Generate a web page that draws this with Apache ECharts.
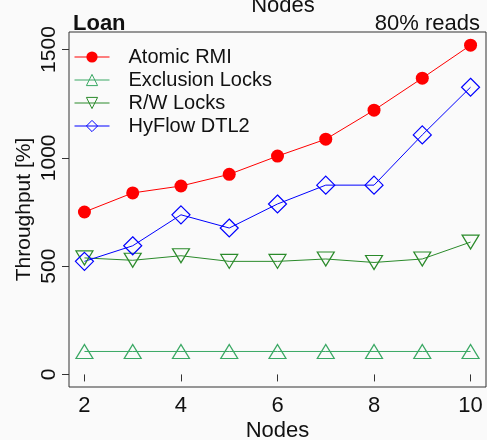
<!DOCTYPE html>
<html>
<head>
<meta charset="utf-8">
<script src="https://cdn.jsdelivr.net/npm/echarts@6/dist/echarts.min.js"></script>
<style>
  html, body { margin: 0; padding: 0; background: #fafafa; }
  #chart { width: 487px; height: 440px; }
</style>
</head>
<body>
<div id="chart"></div>
<script>
// Throughput of the Loan benchmark at 80% reads, by number of nodes
const nodes = [2, 3, 4, 5, 6, 7, 8, 9, 10];
const atomicRmi = [750, 838, 870, 924, 1008, 1086, 1220, 1368, 1520];
const exclusionLocks = [106, 106, 106, 106, 106, 106, 106, 106, 106];
const rwLocks = [538, 527, 548, 522, 522, 533, 517, 533, 611];
const hyflowDtl2 = [522, 594, 737, 676, 787, 874, 874, 1106, 1326];
const xTicks = [2, 4, 6, 8, 10];
const yTicks = [0, 500, 1000, 1500];

const FONT = '"Liberation Sans", Arial, Helvetica, sans-serif';

const styles = {
  'Atomic RMI':      { color: '#ff0000', symbol: 'circle',   size: 13,       filled: true },
  'Exclusion Locks': { color: '#3aa864', symbol: 'triangle', size: [17, 14], filled: false },
  'R/W Locks':       { color: '#2a8a2a', symbol: 'triangle', size: [17, 14], filled: false, rotate: 180 },
  'HyFlow DTL2':     { color: '#0000ff', symbol: 'diamond',  size: 18,       filled: false }
};

function pairs(values) {
  return nodes.map((n, i) => [n, values[i]]);
}

function lineSeries(name, values) {
  const s = styles[name];
  return {
    name: name,
    type: 'line',
    data: pairs(values),
    symbol: s.symbol,
    symbolSize: s.size,
    symbolRotate: s.rotate || 0,
    showAllSymbol: true,
    lineStyle: { color: s.color, width: 1 },
    itemStyle: s.filled
      ? { color: s.color, borderWidth: 0 }
      : { color: 'rgba(0,0,0,0)', borderColor: s.color, borderWidth: 1.2 },
    emphasis: { disabled: true },
    animation: false,
    z: 3
  };
}

const chart = echarts.init(document.getElementById('chart'), null, { renderer: 'canvas' });

chart.setOption({
  backgroundColor: '#fafafa',
  animation: false,
  textStyle: { fontFamily: FONT },
  grid: {
    left: 69, right: 1, top: 32, bottom: 53,
    outerBoundsMode: 'none',
    containLabel: false,
    show: true, borderColor: '#333', borderWidth: 1, backgroundColor: 'transparent'
  },
  title: [
    { text: 'Nodes', left: 278, top: -10, textAlign: 'center',
      textStyle: { fontFamily: FONT, fontSize: 22, fontWeight: 'normal', color: '#111' } },
    { text: 'Loan', left: 68, top: 8,
      textStyle: { fontFamily: FONT, fontSize: 22, fontWeight: 'bold', color: '#111' } },
    { text: '80% reads', right: 2, top: 8,
      textStyle: { fontFamily: FONT, fontSize: 22, fontWeight: 'normal', color: '#111' } }
  ],
  legend: {
    orient: 'vertical',
    left: 74, top: 47,
    padding: 0,
    itemWidth: 35, itemHeight: 14,
    itemGap: 3,
    lineStyle: { width: 1 },
    itemStyle: { borderWidth: 1 },
    textStyle: { fontFamily: FONT, fontSize: 20, color: '#111', lineHeight: 20, padding: [0, 0, 0, 14] },
    data: Object.keys(styles),
    selectedMode: false
  },
  xAxis: {
    type: 'value',
    min: 1.68, max: 10.32,
    name: 'Nodes', nameLocation: 'middle', nameGap: 33,
    nameMoveOverlap: false,
    nameTextStyle: { fontFamily: FONT, fontSize: 22, color: '#111' },
    axisLine: { show: false },
    splitLine: { show: false },
    axisTick: { show: true, customValues: xTicks, length: 7, lineStyle: { color: '#333' } },
    axisLabel: { customValues: xTicks, margin: 8, fontFamily: FONT, fontSize: 22, color: '#111' }
  },
  yAxis: {
    type: 'value',
    min: -58, max: 1581,
    name: 'Throughput [%]', nameLocation: 'middle', nameGap: 34,
    nameMoveOverlap: false,
    nameTextStyle: { fontFamily: FONT, fontSize: 21, color: '#111' },
    axisLine: { show: false },
    splitLine: { show: false },
    axisTick: { show: true, customValues: yTicks, length: 7, lineStyle: { color: '#333' } },
    axisLabel: { customValues: yTicks, rotate: 90, margin: 9, fontFamily: FONT, fontSize: 21, color: '#111',
      formatter: v => String(v) }
  },
  series: [
    lineSeries('Atomic RMI', atomicRmi),
    lineSeries('Exclusion Locks', exclusionLocks),
    lineSeries('R/W Locks', rwLocks),
    lineSeries('HyFlow DTL2', hyflowDtl2)
  ]
});
</script>
</body>
</html>
